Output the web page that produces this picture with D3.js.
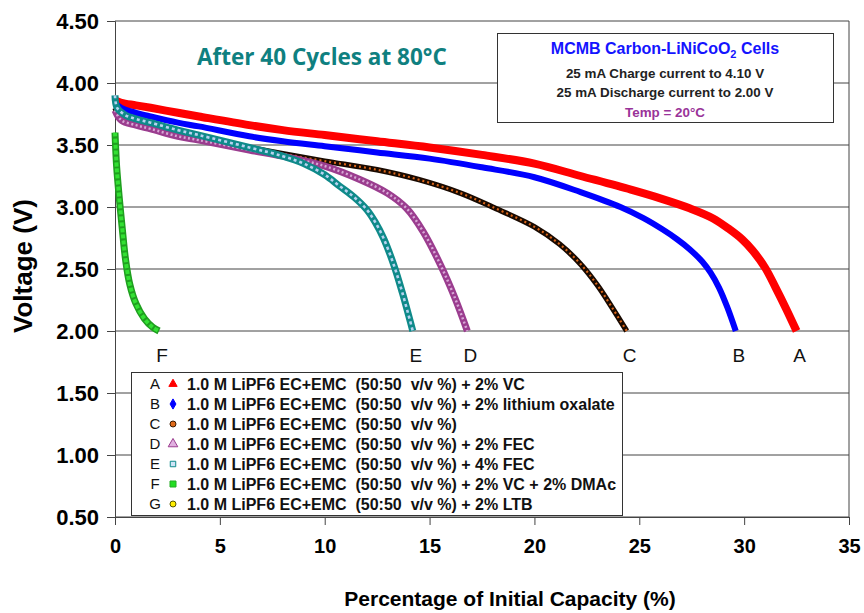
<!DOCTYPE html>
<html>
<head>
<meta charset="utf-8">
<script src="https://cdn.jsdelivr.net/npm/d3@7"></script>
<style>
  html, body { margin: 0; padding: 0; background: #fff; }
  svg { display: block; font-family: "Liberation Sans", Arial, sans-serif; }
</style>
</head>
<body>
<svg id="chart" width="864" height="613"></svg>
<script>
// Discharge curves: [capacity %, voltage V]
const seriesA = [[0,3.86],[0.3,3.84],[1,3.82],[1.7,3.80],[3,3.76],[4,3.73],[6.4,3.66],[8,3.62],[10,3.58],[12.5,3.53],[15,3.48],[17.5,3.42],[20,3.35],[22.2,3.25],[24.6,3.14],[26,3.07],[27.4,2.99],[28.5,2.91],[29.3,2.82],[29.9,2.74],[30.4,2.65],[31.0,2.51],[31.5,2.35],[32.0,2.18],[32.5,2.00]];
const seriesB = [[0,3.84],[0.3,3.80],[1,3.76],[1.7,3.73],[3,3.68],[4,3.65],[6.4,3.57],[8,3.53],[10,3.49],[12.5,3.44],[15,3.39],[17.5,3.32],[20,3.24],[22.2,3.12],[24.1,3.00],[25.2,2.91],[26.1,2.82],[26.8,2.74],[27.4,2.66],[28.0,2.56],[28.4,2.47],[28.8,2.35],[29.2,2.19],[29.6,2.00]];
const seriesC = [[0,3.80],[0.3,3.72],[1,3.67],[1.7,3.64],[3,3.58],[4,3.55],[6.4,3.48],[8,3.43],[10,3.37],[12.5,3.30],[14.5,3.22],[16.5,3.11],[18,3.00],[20,2.84],[21.2,2.70],[22.2,2.54],[23.0,2.37],[23.7,2.19],[24.4,2.00]];
const seriesD = [[0,3.78],[0.3,3.70],[1,3.66],[1.7,3.63],[3,3.57],[4,3.54],[6.4,3.46],[8,3.41],[10,3.33],[11.7,3.22],[13,3.11],[13.9,2.99],[14.7,2.80],[15.5,2.54],[16.2,2.27],[16.8,2.00]];
const seriesE = [[0,3.90],[0.1,3.80],[0.5,3.74],[1,3.71],[1.7,3.68],[3,3.62],[4,3.58],[6.4,3.48],[8,3.41],[9,3.35],[10,3.26],[10.7,3.17],[11.4,3.08],[12.0,2.98],[12.4,2.88],[12.8,2.75],[13.3,2.53],[13.7,2.31],[14.2,2.00]];
const seriesF = [[0,3.60],[0.03,3.48],[0.08,3.32],[0.2,3.08],[0.35,2.82],[0.5,2.58],[0.7,2.38],[1.0,2.22],[1.4,2.10],[1.8,2.03],[2.1,2.00]];
const seriesG = [];

const seriesKeys = ["A", "B", "C", "D", "E", "F", "G"];
const seriesNames = [
  "1.0 M LiPF6 EC+EMC  (50:50  v/v %) + 2% VC",
  "1.0 M LiPF6 EC+EMC  (50:50  v/v %) + 2% lithium oxalate",
  "1.0 M LiPF6 EC+EMC  (50:50  v/v %)",
  "1.0 M LiPF6 EC+EMC  (50:50  v/v %) + 2% FEC",
  "1.0 M LiPF6 EC+EMC  (50:50  v/v %) + 4% FEC",
  "1.0 M LiPF6 EC+EMC  (50:50  v/v %) + 2% VC + 2% DMAc",
  "1.0 M LiPF6 EC+EMC  (50:50  v/v %) + 2% LTB"
];
const xTicks = [0, 5, 10, 15, 20, 25, 30, 35];
const yTicks = [0.5, 1.0, 1.5, 2.0, 2.5, 3.0, 3.5, 4.0, 4.5];

const svg = d3.select("#chart");
const x = d3.scaleLinear().domain([0, 35]).range([115, 849]);
const y = d3.scaleLinear().domain([0.5, 4.5]).range([517, 21]);

// Horizontal gridlines
svg.append("g").selectAll("line").data(yTicks).join("line")
  .attr("x1", x(0)).attr("x2", x(35))
  .attr("y1", d => y(d)).attr("y2", d => y(d))
  .attr("stroke", "#444").attr("stroke-width", 1);
// Right frame
svg.append("line").attr("x1", x(35)).attr("x2", x(35)).attr("y1", y(4.5)).attr("y2", y(0.5))
  .attr("stroke", "#444");

// Axes
const yAxis = d3.axisLeft(y).tickValues(yTicks).tickFormat(d3.format(".2f")).tickSize(8).tickPadding(8);
const gy = svg.append("g").attr("transform", `translate(${x(0)},0)`).call(yAxis);
gy.select(".domain").attr("stroke", "#444");
gy.selectAll(".tick line").attr("stroke", "#444");
gy.selectAll("text").attr("font-size", 22).attr("font-weight", "bold").attr("fill", "#000")
  .attr("font-family", "'Liberation Sans', Arial, sans-serif");

const xAxis = d3.axisBottom(x).tickValues(xTicks).tickFormat(d3.format("d")).tickSize(8).tickPadding(14);
const gx = svg.append("g").attr("transform", `translate(0,${y(0.5)})`).call(xAxis);
gx.select(".domain").attr("stroke", "#444");
gx.selectAll(".tick line").attr("stroke", "#444");
gx.selectAll("text").attr("font-size", 20).attr("font-weight", "bold").attr("fill", "#000")
  .attr("font-family", "'Liberation Sans', Arial, sans-serif");

// Axis titles
svg.append("text").attr("x", 510).attr("y", 606).attr("text-anchor", "middle")
  .attr("font-size", 21).attr("font-weight", "bold").text("Percentage of Initial Capacity (%)");
svg.append("text").attr("transform", "translate(32,266) rotate(-90)").attr("text-anchor", "middle")
  .attr("font-size", 26).attr("font-weight", "bold").text("Voltage (V)");

// Curves
const line = d3.line().x(d => x(d[0])).y(d => y(d[1])).curve(d3.curveCatmullRom.alpha(0.5));
const styles = {
  A: [{ stroke: "#ff0000", width: 8 }],
  B: [{ stroke: "#0000ff", width: 6 }],
  C: [{ stroke: "#1a0a00", width: 5.5 }, { stroke: "#d9661a", width: 2.2, dash: "2,3" }],
  D: [{ stroke: "#9b3d8f", width: 7 }, { stroke: "#d7a8d6", width: 2.5, dash: "2,2.5" }],
  E: [{ stroke: "#0f8a8a", width: 7 }, { stroke: "#b7d3f0", width: 2.6, dash: "3,3" }],
  F: [{ stroke: "#1f9f1f", width: 7 }, { stroke: "#33e033", width: 4, dash: "4,2" }]
};
const data = { A: seriesA, B: seriesB, C: seriesC, D: seriesD, E: seriesE, F: seriesF, G: seriesG };
const curves = svg.append("g");
["A", "B", "C", "D", "E", "F"].forEach(k => {
  styles[k].forEach(s => {
    curves.append("path").datum(data[k]).attr("d", line)
      .attr("fill", "none").attr("stroke", s.stroke).attr("stroke-width", s.width)
      .attr("stroke-linejoin", "round")
      .attr("stroke-dasharray", s.dash || null);
  });
});

// End-point letters
const ends = ["F", "E", "D", "C", "B", "A"].map(k => ({ k, v: data[k][data[k].length - 1] }));
svg.append("g").selectAll("text").data(ends).join("text")
  .attr("x", d => x(d.v[0]) + 3).attr("y", y(2.0) + 31)
  .attr("text-anchor", "middle").attr("font-size", 19).attr("fill", "#111")
  .text(d => d.k);

// Annotation
svg.append("text").attr("x", 197).attr("y", 65)
  .attr("font-family", "'Comic Sans MS', 'Open Sans', sans-serif")
  .attr("font-size", 22.5).attr("font-weight", "bold").attr("fill", "#0f8080")
  .text("After 40 Cycles at 80°C");

// Info box
const info = svg.append("g");
info.append("rect").attr("x", 497.5).attr("y", 33.5).attr("width", 336).attr("height", 89)
  .attr("fill", "#fff").attr("stroke", "#333");
const t1 = info.append("text").attr("x", 665).attr("y", 54).attr("text-anchor", "middle")
  .attr("font-size", 16).attr("font-weight", "bold").attr("fill", "#1414ff");
t1.append("tspan").text("MCMB Carbon-LiNiCoO");
t1.append("tspan").attr("font-size", 11).attr("dy", 4).text("2");
t1.append("tspan").attr("dy", -4).text(" Cells");
info.append("text").attr("x", 665).attr("y", 78).attr("text-anchor", "middle")
  .attr("font-size", 13.4).attr("font-weight", "bold").attr("fill", "#222").text("25 mA Charge current to 4.10 V");
info.append("text").attr("x", 665).attr("y", 97).attr("text-anchor", "middle")
  .attr("font-size", 13.4).attr("font-weight", "bold").attr("fill", "#222").text("25 mA Discharge current to 2.00 V");
info.append("text").attr("x", 665).attr("y", 117).attr("text-anchor", "middle")
  .attr("font-size", 13.4).attr("font-weight", "bold").attr("fill", "#993399").text("Temp = 20°C");

// Legend
const legend = svg.append("g");
legend.append("rect").attr("x", 131.5).attr("y", 372.5).attr("width", 491).attr("height", 143)
  .attr("fill", "#fff").attr("stroke", "#333");
const markerStyle = {
  A: { type: d3.symbolTriangle, fill: "#ff0000", stroke: "#ff0000", size: 30 },
  B: { type: d3.symbolDiamond, fill: "#0000ff", stroke: "#0000ff", size: 30 },
  C: { type: d3.symbolCircle, fill: "#e06a1a", stroke: "#3a1a00", size: 28 },
  D: { type: d3.symbolTriangle, fill: "#e0b0e0", stroke: "#9b3d8f", size: 40 },
  E: { type: d3.symbolSquare, fill: "#cfe4f7", stroke: "#0f8a8a", size: 30 },
  F: { type: d3.symbolSquare, fill: "#22dd22", stroke: "#22aa22", size: 36 },
  G: { type: d3.symbolCircle, fill: "#ffee00", stroke: "#555500", size: 28 }
};
seriesKeys.forEach((k, i) => {
  const cy = 384 + i * 20;
  legend.append("text").attr("x", 155).attr("y", cy + 5).attr("text-anchor", "middle")
    .attr("font-size", 15).attr("fill", "#111").text(k);
  const m = markerStyle[k];
  legend.append("path").attr("transform", `translate(173,${cy})`)
    .attr("d", d3.symbol().type(m.type).size(m.size)())
    .attr("fill", m.fill).attr("stroke", m.stroke).attr("stroke-width", 1);
  legend.append("text").attr("x", 187).attr("y", cy + 6)
    .attr("font-size", 16).attr("font-weight", "bold").attr("fill", "#111")
    .attr("xml:space", "preserve").style("white-space", "pre")
    .text(seriesNames[i]);
});
</script>
</body>
</html>
